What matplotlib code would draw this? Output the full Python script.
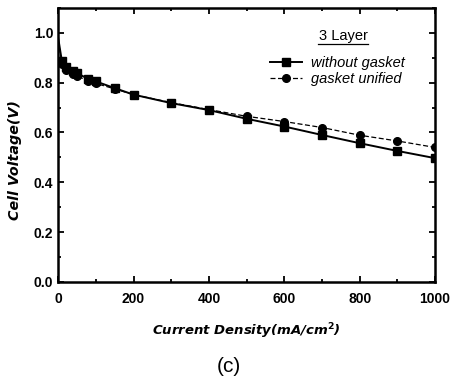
import matplotlib
matplotlib.use("Agg")
import matplotlib.pyplot as plt
from matplotlib.ticker import MultipleLocator

# Current density (mA/cm2) and cell voltage (V)
current = [0, 10, 20, 40, 50, 80, 100, 150, 200, 300, 400, 500, 600, 700, 800, 900, 1000]
v_without = [0.98, 0.885, 0.862, 0.845, 0.838, 0.815, 0.805, 0.778, 0.752, 0.718,
             0.690, 0.655, 0.624, 0.590, 0.557, 0.526, 0.497]
v_unified = [0.97, 0.875, 0.852, 0.835, 0.828, 0.805, 0.797, 0.775, 0.752, 0.720,
             0.692, 0.665, 0.644, 0.620, 0.589, 0.566, 0.540]

plt.rcParams["font.family"] = ["Liberation Sans", "DejaVu Sans"]

fig = plt.figure(figsize=(4.58, 3.77), dpi=100)
ax = fig.add_axes([0.127, 0.252, 0.823, 0.727])

# first point (open circuit) drawn as line only
marks = list(range(1, len(current)))
ax.plot(current, v_without, color="black", linewidth=1.4, marker="s", markersize=5.5,
        markevery=marks, label="without gasket")
ax.plot(current, v_unified, color="black", linewidth=0.9, linestyle=(0, (4, 2)),
        marker="o", markersize=5.5, markevery=marks, label="gasket unified")

ax.set_xlim(0, 1000)
ax.set_ylim(0, 1.1)
ax.xaxis.set_major_locator(MultipleLocator(200))
ax.xaxis.set_minor_locator(MultipleLocator(100))
ax.yaxis.set_major_locator(MultipleLocator(0.2))
ax.yaxis.set_minor_locator(MultipleLocator(0.1))
ax.tick_params(which="both", direction="in", top=True, right=True, width=1.3)
ax.tick_params(which="major", length=4, labelsize=10)
ax.tick_params(axis="x", which="major", pad=7)
ax.tick_params(which="minor", length=2.5)
for lab in ax.get_xticklabels() + ax.get_yticklabels():
    lab.set_fontweight("bold")
for sp in ax.spines.values():
    sp.set_linewidth(1.8)

ax.set_xlabel("Current Density(mA/cm$^\\mathbf{2}$)", fontsize=9.5, fontweight="bold",
              fontstyle="italic", family="DejaVu Sans", labelpad=11)
ax.set_ylabel("Cell Voltage(V)", fontsize=10.3, fontweight="bold", fontstyle="italic",
              family="DejaVu Sans")
ax.yaxis.set_label_coords(-0.095, 0.445)

ax.text(0.756, 0.897, "3 Layer", transform=ax.transAxes, ha="center", va="center",
        fontsize=10.5)
ax.plot([0.69, 0.822], [0.868, 0.868], transform=ax.transAxes, color="black",
        linewidth=0.9, clip_on=False)

ax.legend(loc="upper left", bbox_to_anchor=(0.562, 0.824), frameon=False,
          handlelength=2.2, labelspacing=0.1, handletextpad=0.6, borderpad=0,
          borderaxespad=0, prop={"size": 10.5, "style": "italic"})

fig.text(0.5, 0.027, "(c)", ha="center", va="center", fontsize=15)

fig.savefig("out.png", dpi=100)
